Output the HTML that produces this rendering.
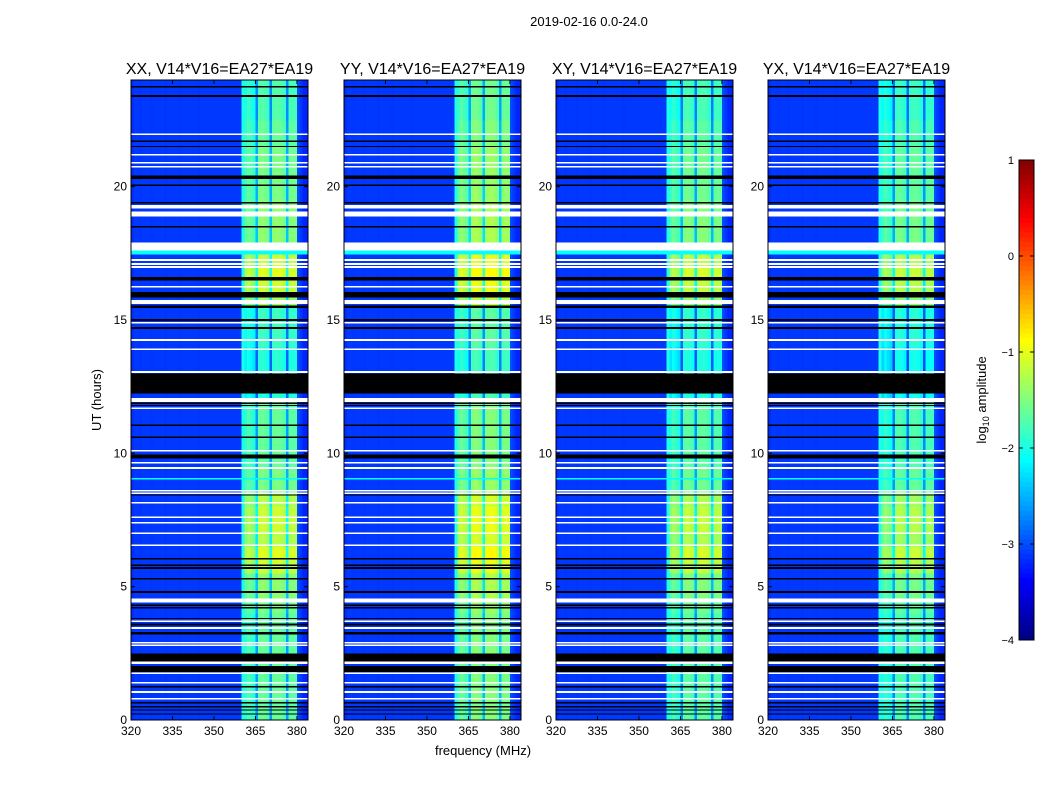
<!DOCTYPE html>
<html><head><meta charset="utf-8"><style>
body{margin:0;background:#fff;}
svg{display:block;font-family:"Liberation Sans",sans-serif;}
</style></head><body>
<svg id="chart" width="1050" height="800" xmlns="http://www.w3.org/2000/svg">
<text x="589" y="26" font-size="13" text-anchor="middle">2019-02-16 0.0-24.0</text>
<text transform="translate(101,400) rotate(-90)" font-size="13" text-anchor="middle">UT (hours)</text>
<text x="483" y="755" font-size="13" text-anchor="middle">frequency (MHz)</text>
<g id="panels"></g>
<g id="cbar"></g>
</svg>
<script>
// ---- data ----
const panelTitles = ["XX, V14*V16=EA27*EA19","YY, V14*V16=EA27*EA19","XY, V14*V16=EA27*EA19","YX, V14*V16=EA27*EA19"];
const panelGain = [0, 0.15, -0.05, -0.12];
// log10 amplitude per 1 MHz channel, 320..383
const freqStart = 320;
const colProfile = [
-3.15,-3.1,-3.1,-3.12,-3.1,-3.1,-3.1,-3.12,-3.1,-3.1,
-3.1,-3.1,-3.12,-3.1,-3.1,-3.1,-3.1,-3.12,-3.1,-3.1,
-3.1,-3.1,-3.1,-3.1,-3.12,-3.1,-3.1,-3.1,-3.1,-3.1,
-3.1,-3.1,-3.1,-3.1,-3.1,-3.1,-3.1,-3.1,-3.1,-3.1,
-2.0,-1.9,-1.75,-1.85,-1.95,-2.6,-1.65,-1.6,-1.65,-1.75,
-2.6,-1.65,-1.6,-1.6,-1.65,-1.75,-2.6,-1.7,-1.65,-1.7,
-3.0,-3.1,-3.2,-3.2];
const bandStart = 361, bandEnd = 379;
// band brightness offset per half hour, 0..24 h
const bandOffset = [
0,0,0,0,0,0,0,0,0.1,0.2, 0.2,0.5,0.6,0.4,0.5,0.5,0.4,0.1,0.1,0,
0,0,0,0,-0.3,-0.3,-0.3,-0.3,-0.2,-0.2,-0.2,0.3,0.5,0.6,0.5,0.2,0.2,0.2,0.2,0.1,
0.1,0.1,0.1,0,0,-0.1,-0.1,-0.1];
// flagged time ranges [t0, t1, kind] w=white(NaN) k=black(zero) c=cyan
const flags = [
[23.72,23.78,"k"],[23.37,23.43,"k"],[21.93,22.0,"w"],[21.68,21.73,"k"],[21.48,21.53,"k"],
[21.17,21.23,"w"],[20.87,20.93,"w"],[20.72,20.78,"w"],[20.28,20.42,"k"],[20.02,20.08,"k"],
[19.37,19.43,"k"],[19.18,19.32,"w"],[18.88,19.07,"w"],[18.47,18.53,"k"],[17.6,17.9,"w"],
[17.45,17.6,"c"],[17.22,17.28,"w"],[17.07,17.13,"w"],[16.95,17.02,"w"],[16.48,16.62,"k"],
[16.22,16.28,"w"],[15.85,16.05,"k"],[15.6,15.75,"w"],[15.45,15.55,"k"],[14.97,15.03,"k"],
[14.87,14.93,"w"],[14.67,14.73,"k"],[14.22,14.28,"w"],[13.87,13.93,"w"],[13.02,13.08,"w"],
[12.25,13.0,"k"],[11.92,12.08,"w"],[11.85,11.9,"k"],[11.77,11.82,"k"],[11.67,11.72,"w"],
[11.02,11.08,"k"],[10.57,10.63,"k"],[10.07,10.13,"w"],[9.8,9.95,"k"],[9.62,9.68,"w"],
[9.42,9.48,"w"],[9.02,9.08,"c"],[8.57,8.63,"w"],[8.47,8.53,"w"],[8.42,8.46,"k"],
[8.12,8.18,"w"],[7.57,7.63,"w"],[7.37,7.43,"w"],[6.97,7.03,"w"],[6.52,6.58,"w"],
[6.02,6.08,"k"],[5.77,5.83,"k"],[5.67,5.73,"k"],[5.27,5.33,"k"],[4.77,4.83,"k"],
[4.4,4.55,"w"],[4.28,4.33,"k"],[4.18,4.23,"k"],[3.78,3.83,"k"],[3.68,3.73,"w"],
[3.55,3.62,"k"],[3.42,3.48,"w"],[3.2,3.3,"k"],[2.87,2.93,"w"],[2.77,2.83,"w"],
[2.2,2.5,"k"],[2.1,2.2,"w"],[1.8,2.02,"k"],[1.72,1.78,"w"],[1.37,1.43,"w"],
[1.22,1.28,"k"],[1.02,1.08,"w"],[0.77,0.83,"w"],[0.62,0.68,"k"],[0.47,0.52,"k"],
[0.35,0.4,"k"],[0.2,0.25,"k"]];
const xTicks = [320,335,350,365,380];
const yTicks = [0,5,10,15,20];
const cbTicks = [1,0,-1,-2,-3,-4];
const cbLabels = ["1","0","\u22121","\u22122","\u22123","\u22124"];

// ---- layout ----
const NS="http://www.w3.org/2000/svg";
const panelX=[131,344,556,768], pw=177, yTop=80, yBot=720;
const fMin=320,fMax=384,tMin=0,tMax=24,vMin=-4,vMax=1;
function xs(px,f){return px+(f-fMin)/(fMax-fMin)*pw;}
function ys(h){return yBot-(h-tMin)/(tMax-tMin)*(yBot-yTop);}
function jet(v){let t=Math.max(0,Math.min(1,(v-vMin)/(vMax-vMin)));
 const r=Math.max(0,Math.min(1,1.5-Math.abs(4*t-3))),g=Math.max(0,Math.min(1,1.5-Math.abs(4*t-2))),b=Math.max(0,Math.min(1,1.5-Math.abs(4*t-1)));
 return `rgb(${Math.round(r*255)},${Math.round(g*255)},${Math.round(b*255)})`;}
function el(tag,a,parent){const e=document.createElementNS(NS,tag);for(const k in a)e.setAttribute(k,a[k]);parent.appendChild(e);return e;}
const panels=document.getElementById('panels');
panelX.forEach((px,p)=>{
 const g=el('g',{},panels);
 
 
 const t=el('text',{x:px+pw/2,y:74,'font-size':16,'text-anchor':'middle'},g);t.textContent=panelTitles[p];
 
 
 const hm=el('g',{'shape-rendering':'crispEdges'},g);
 
 
 for(let r=0;r<bandOffset.length;r++){
  const h0=r*0.5,h1=h0+0.5;
  for(let c=0;c<colProfile.length;c++){
   const f=freqStart+c;const inBand=f>=bandStart&&f<=bandEnd;
   const v=colProfile[c]+(inBand?bandOffset[r]+panelGain[p]:0);
   const x0=xs(px,f),x1=xs(px,f+1);
   const rc=el('rect',{x:x0.toFixed(2),y:ys(h1).toFixed(2),width:(x1-x0+0.3).toFixed(2),height:(ys(h0)-ys(h1)+0.3).toFixed(2),fill:jet(v)},hm);
   
   
  }
 }
 flags.forEach(fl=>{
  const col=fl[2]==='w'?'#fff':fl[2]==='k'?'#000':jet(-2.1);
  const rc=el('rect',{x:px,y:ys(fl[1]).toFixed(2),width:pw,height:Math.max(1,ys(fl[0])-ys(fl[1])).toFixed(2),fill:col},hm);
  
  
 });
 el('rect',{x:px,y:yTop,width:pw,height:yBot-yTop,fill:'none',stroke:'#000','stroke-width':1},g);
 xTicks.forEach(v=>{const x=xs(px,v);
  el('line',{x1:x,x2:x,y1:yBot,y2:yBot-4,stroke:'#000'},g);el('line',{x1:x,x2:x,y1:yTop,y2:yTop+4,stroke:'#000'},g);
  const tx=el('text',{x:x,y:yBot+15,'font-size':12,'text-anchor':'middle'},g);tx.textContent=v;
  
  });
 yTicks.forEach(v=>{const y=ys(v);
  el('line',{x1:px,x2:px+4,y1:y,y2:y,stroke:'#000'},g);el('line',{x1:px+pw,x2:px+pw-4,y1:y,y2:y,stroke:'#000'},g);
  const tx=el('text',{x:px-4,y:y+4,'font-size':12,'text-anchor':'end'},g);tx.textContent=v;
  
  });
});
// colorbar
const cb=document.getElementById('cbar');const cbx=1019,cbw=15,cbt=160,cbb=640;
function cy(v){return cbb-(v-vMin)/(vMax-vMin)*(cbb-cbt);}
for(let i=0;i<100;i++){const v0=vMin+i*(vMax-vMin)/100,v1=v0+(vMax-vMin)/100;
 el('rect',{x:cbx,y:cy(v1).toFixed(2),width:cbw,height:(cy(v0)-cy(v1)+0.5).toFixed(2),fill:jet((v0+v1)/2),'shape-rendering':'crispEdges'},cb);}
el('rect',{x:cbx,y:cbt,width:cbw,height:cbb-cbt,fill:'none',stroke:'#000'},cb);
cbTicks.forEach((v,i)=>{const y=cy(v);el('line',{x1:cbx,x2:cbx+4,y1:y,y2:y,stroke:'#000'},cb);el('line',{x1:cbx+cbw,x2:cbx+cbw-4,y1:y,y2:y,stroke:'#000'},cb);
 const tx=el('text',{x:cbx-5,y:y+4,'font-size':11,'text-anchor':'end'},cb);tx.textContent=cbLabels[i];
 
 });
const lab=el('text',{transform:'translate(986,400) rotate(-90)','font-size':13,'text-anchor':'middle'},cb);
lab.innerHTML='log<tspan font-size="9" dy="3">10</tspan><tspan dy="-3"> amplitude</tspan>';


</script>
</body></html>
